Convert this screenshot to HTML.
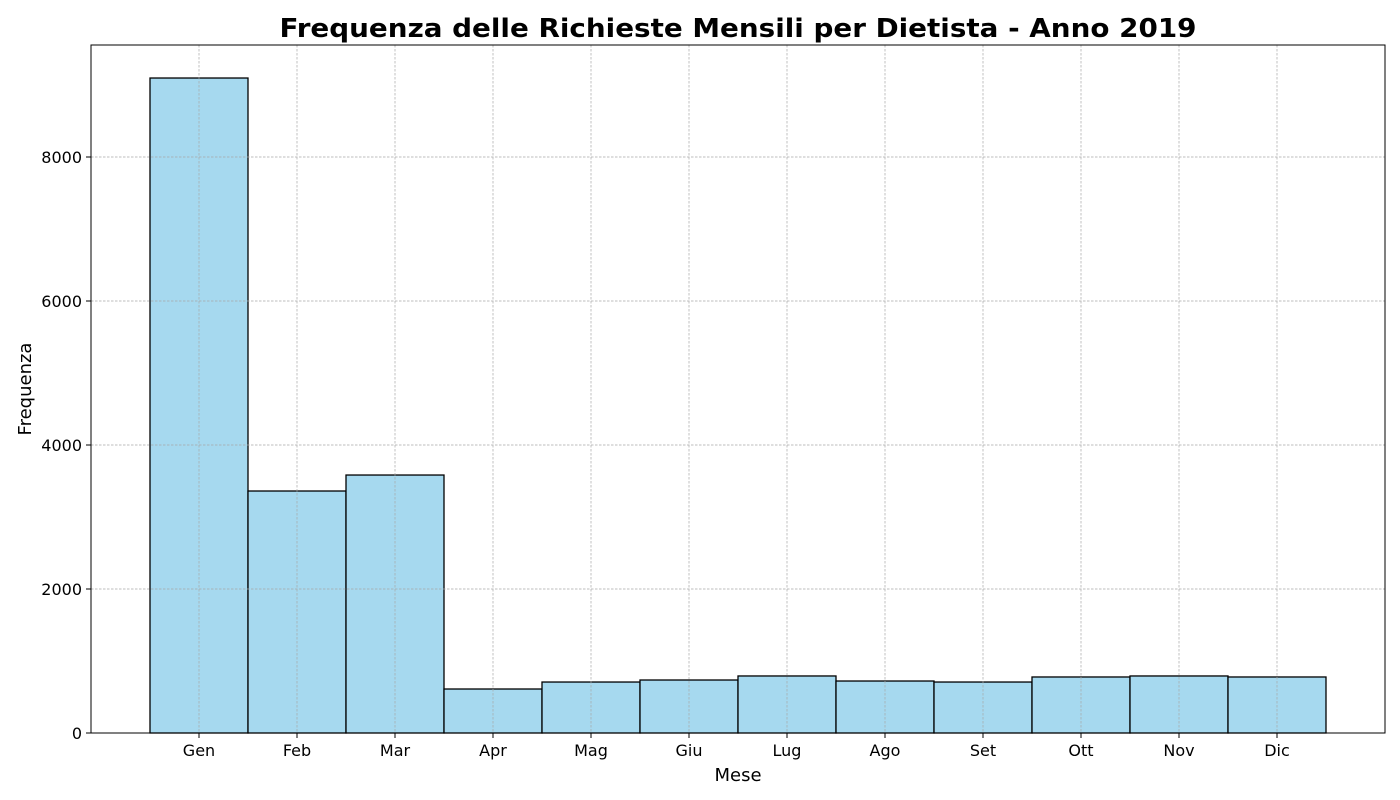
<!DOCTYPE html>
<html><head><meta charset="utf-8"><style>
body{margin:0;background:#fff;}
svg{display:block;font-family:"DejaVu Sans","Liberation Sans",sans-serif;}
</style></head><body>
<svg id="chart" width="1400" height="800">
<text x="738" y="37" text-anchor="middle" font-size="26" font-weight="bold" textLength="917" lengthAdjust="spacingAndGlyphs">Frequenza delle Richieste Mensili per Dietista - Anno 2019</text>
<g id="bars"></g><g id="grid"></g><g id="axes"></g>
<text x="738" y="781" text-anchor="middle" font-size="18">Mese</text>
<text transform="translate(31,389) rotate(-90)" text-anchor="middle" font-size="18">Frequenza</text>
</svg>
<script>
const categories=["Gen","Feb","Mar","Apr","Mag","Giu","Lug","Ago","Set","Ott","Nov","Dic"];
const values=[9097,3361,3583,611,708,736,792,722,708,778,792,778];
const yTicks=[0,2000,4000,6000,8000];
const NS="http://www.w3.org/2000/svg";
const L=91,R=1385,T=45,B=733;
const x=i=>199+98*i;
const y=v=>B-v*0.072;
function mk(tag,attrs,parent){const e=document.createElementNS(NS,tag);for(const k in attrs)e.setAttribute(k,attrs[k]);document.getElementById(parent).appendChild(e);return e;}
categories.forEach((c,i)=>{
 const g=mk("line",{x1:x(i),x2:x(i),y1:T,y2:B,stroke:"#a8a8a8","stroke-width":0.7,"stroke-dasharray":"2.5,1.5"},"grid");
 
 
});
yTicks.forEach(t=>{
 const g=mk("line",{x1:L,x2:R,y1:y(t),y2:y(t),stroke:"#a8a8a8","stroke-width":0.7,"stroke-dasharray":"2.5,1.5"},"grid");
 
 
 const tk=mk("line",{x1:L-5,x2:L,y1:y(t),y2:y(t),stroke:"#000"},"axes");
 
 
 const tl=mk("text",{x:L-9,y:y(t)+6,"text-anchor":"end","font-size":"16"},"axes");
 tl.textContent=t;
 
 
});
values.forEach((v,i)=>{
 const b=mk("rect",{x:x(i)-49,y:y(v),width:98,height:B-y(v),fill:"#a6d9ef",stroke:"#000","stroke-width":1.3},"bars");
 
 
 const tk=mk("line",{x1:x(i),x2:x(i),y1:B,y2:B+5,stroke:"#000"},"axes");
 
 
 const tl=mk("text",{x:x(i),y:B+23,"text-anchor":"middle","font-size":"16"},"axes");
 tl.textContent=categories[i];
 
 
});
const f=mk("rect",{x:L,y:T,width:R-L,height:B-T,fill:"none",stroke:"#000","stroke-width":1},"axes");


</script>
</body></html>
